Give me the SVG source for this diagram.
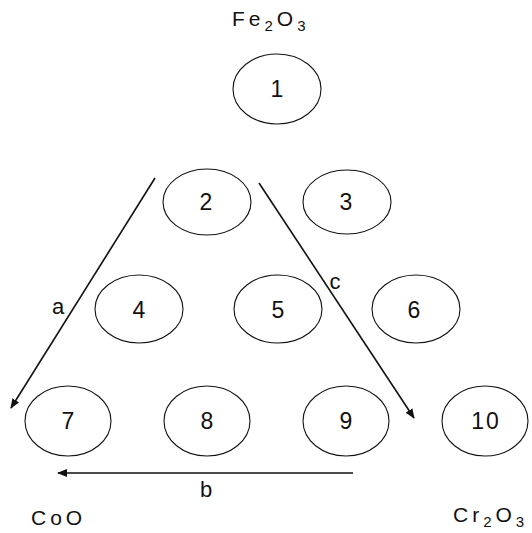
<svg xmlns="http://www.w3.org/2000/svg" width="532" height="533" viewBox="0 0 532 533">
<style>
.n ellipse{fill:none;stroke:#111;stroke-width:1.1}
text{font-family:"Liberation Sans",Arial,sans-serif;font-size:23px;fill:#111;text-anchor:middle}
.l{font-size:22px}
.f{font-size:21px;letter-spacing:4px;text-anchor:start}
.s{font-size:15px}
.c line{stroke:#111;stroke-width:1.6}
</style>
<defs>
<marker id="ah" markerWidth="10" markerHeight="8" refX="9" refY="4" orient="auto" markerUnits="userSpaceOnUse">
<path d="M0,0 L10,4 L0,8 Z" fill="#111"/>
</marker>
</defs>
<rect width="532" height="533" fill="#fff"/>
<g id="n1" class="n"><ellipse cx="277" cy="89" rx="44" ry="35"/><text x="277" y="97">1</text></g>
<g id="n2" class="n"><ellipse cx="207" cy="202" rx="44" ry="33"/><text x="206" y="210">2</text></g>
<g id="n3" class="n"><ellipse cx="347" cy="202" rx="44" ry="32"/><text x="346" y="210">3</text></g>
<g id="n4" class="n"><ellipse cx="139" cy="309" rx="44" ry="34"/><text x="139" y="318">4</text></g>
<g id="n5" class="n"><ellipse cx="278" cy="309" rx="44" ry="34"/><text x="278" y="318">5</text></g>
<g id="n6" class="n"><ellipse cx="416" cy="309" rx="44" ry="34"/><text x="414" y="318">6</text></g>
<g id="n7" class="n"><ellipse cx="68" cy="421" rx="43" ry="35"/><text x="68" y="429">7</text></g>
<g id="n8" class="n"><ellipse cx="207" cy="421" rx="43" ry="35"/><text x="207" y="429">8</text></g>
<g id="n9" class="n"><ellipse cx="346" cy="421" rx="43" ry="35"/><text x="346" y="429">9</text></g>
<g id="n10" class="n"><ellipse cx="485" cy="421" rx="43" ry="35"/><text x="486" y="429" style="letter-spacing:2px">10</text></g>
<g id="connectors" class="c">
<line x1="155" y1="178" x2="11" y2="408" marker-end="url(#ah)"/>
<line x1="259" y1="183" x2="414" y2="418" marker-end="url(#ah)"/>
<line x1="353" y1="473" x2="58" y2="473" marker-end="url(#ah)"/>
</g>
<text x="58" y="314" class="l">a</text>
<text x="335" y="289" class="l">c</text>
<text x="206" y="497" class="l">b</text>
<text x="232" y="26" class="f">Fe<tspan class="s" dy="5">2</tspan><tspan dy="-5">O</tspan><tspan class="s" dy="5">3</tspan></text>
<text x="31" y="525" class="f">CoO</text>
<text x="453" y="522" class="f">Cr<tspan class="s" dy="5">2</tspan><tspan dy="-5">O</tspan><tspan class="s" dy="5">3</tspan></text>
</svg>
